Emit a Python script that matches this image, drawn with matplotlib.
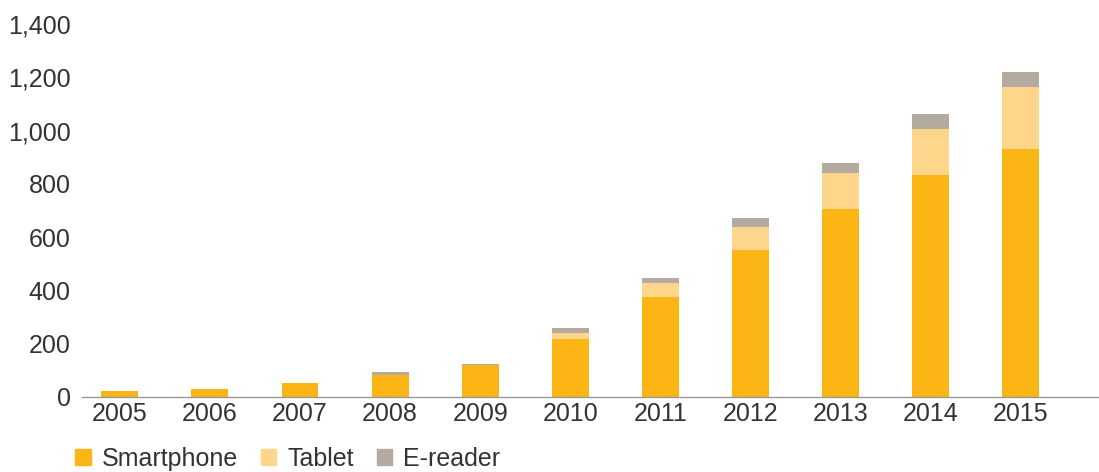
import matplotlib
matplotlib.use('Agg')
import matplotlib.pyplot as plt
import numpy as np
from matplotlib.patches import Patch
from matplotlib.ticker import FuncFormatter

years = ['2005', '2006', '2007', '2008', '2009', '2010', '2011', '2012', '2013', '2014', '2015']
smartphone = [22, 29, 50, 83, 121, 218, 375, 551, 704, 834, 932]
tablet = [0, 0, 0, 0, 0, 20, 51, 88, 135, 172, 233]
ereader = [0, 0, 0, 10, 3, 21, 21, 31, 40, 56, 55]

c_phone = '#FBB514'
c_tablet = '#FED68B'
c_ereader = '#B4AA9F'

plt.rcParams['font.family'] = ['Liberation Sans', 'DejaVu Sans']

fig = plt.figure(figsize=(10.99, 4.72), dpi=100)
ax = fig.add_axes([0.0746, 0.1595, 0.9254, 0.7895])

x = np.arange(len(years))
w = 0.41
phone = np.array(smartphone)
tab = np.array(tablet)
ax.bar(x, phone, w, color=c_phone)
ax.bar(x, tab, w, bottom=phone, color=c_tablet)
ax.bar(x, ereader, w, bottom=phone + tab, color=c_ereader)

ax.set_xlim(-0.42, 10.87)
ax.set_ylim(0, 1400)
ax.set_yticks(range(0, 1401, 200))
ax.yaxis.set_major_formatter(FuncFormatter(lambda v, p: '{:,.0f}'.format(v)))
ax.set_xticks(x)
ax.set_xticklabels(years)
ax.tick_params(length=0, labelsize=18, colors='#333333')
ax.tick_params(axis='y', pad=8)
ax.tick_params(axis='x', pad=4)
for s in ['top', 'right', 'left']:
    ax.spines[s].set_visible(False)
ax.spines['bottom'].set_color('#999999')
ax.spines['bottom'].set_linewidth(1)

handles = [Patch(color=c_phone, label='Smartphone'),
           Patch(color=c_tablet, label='Tablet'),
           Patch(color=c_ereader, label='E-reader')]
fig.legend(handles=handles, loc='lower left', bbox_to_anchor=(0.048, -0.045), ncol=3,
           frameon=False, fontsize=18, handlelength=0.62, handleheight=0.62,
           handletextpad=0.45, columnspacing=0.9, labelcolor='#333333')

plt.savefig('out.png', dpi=100)
